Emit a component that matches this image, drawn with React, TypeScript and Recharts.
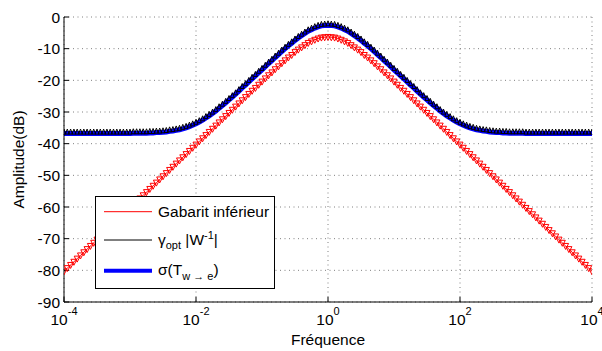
import React from 'react';
import { LineChart, Line, XAxis, YAxis, CartesianGrid, Legend } from 'recharts';

// log10 of frequency sample points
const FREQ_EXP = [
  -4.00, -3.95, -3.90, -3.85, -3.80, -3.75, -3.70, -3.65, -3.60, -3.55,
  -3.50, -3.45, -3.40, -3.35, -3.30, -3.25, -3.20, -3.15, -3.10, -3.05,
  -3.00, -2.95, -2.90, -2.85, -2.80, -2.75, -2.70, -2.65, -2.60, -2.55,
  -2.50, -2.45, -2.40, -2.35, -2.30, -2.25, -2.20, -2.15, -2.10, -2.05,
  -2.00, -1.95, -1.90, -1.85, -1.80, -1.75, -1.70, -1.65, -1.60, -1.55,
  -1.50, -1.45, -1.40, -1.35, -1.30, -1.25, -1.20, -1.15, -1.10, -1.05,
  -1.00, -0.95, -0.90, -0.85, -0.80, -0.75, -0.70, -0.65, -0.60, -0.55,
  -0.50, -0.45, -0.40, -0.35, -0.30, -0.25, -0.20, -0.15, -0.10, -0.05,
  0.00,
  0.05, 0.10, 0.15, 0.20, 0.25, 0.30, 0.35, 0.40, 0.45, 0.50,
  0.55, 0.60, 0.65, 0.70, 0.75, 0.80, 0.85, 0.90, 0.95, 1.00,
  1.05, 1.10, 1.15, 1.20, 1.25, 1.30, 1.35, 1.40, 1.45, 1.50,
  1.55, 1.60, 1.65, 1.70, 1.75, 1.80, 1.85, 1.90, 1.95, 2.00,
  2.05, 2.10, 2.15, 2.20, 2.25, 2.30, 2.35, 2.40, 2.45, 2.50,
  2.55, 2.60, 2.65, 2.70, 2.75, 2.80, 2.85, 2.90, 2.95, 3.00,
  3.05, 3.10, 3.15, 3.20, 3.25, 3.30, 3.35, 3.40, 3.45, 3.50,
  3.55, 3.60, 3.65, 3.70, 3.75, 3.80, 3.85, 3.90, 3.95, 4.00,
];

// Gabarit inférieur (dB)
const GABARIT = [
  -80.3, -79.3, -78.3, -77.3, -76.3, -75.3, -74.3, -73.3, -72.3, -71.3,
  -70.3, -69.3, -68.3, -67.3, -66.3, -65.3, -64.3, -63.3, -62.3, -61.3,
  -60.3, -59.3, -58.3, -57.3, -56.3, -55.3, -54.3, -53.3, -52.3, -51.3,
  -50.3, -49.3, -48.3, -47.3, -46.3, -45.3, -44.3, -43.3, -42.3, -41.3,
  -40.3, -39.3, -38.3, -37.3, -36.3, -35.3, -34.3, -33.3, -32.3, -31.3,
  -30.3, -29.3, -28.3, -27.3, -26.3, -25.3, -24.3, -23.3, -22.4, -21.4,
  -20.4, -19.4, -18.4, -17.5, -16.5, -15.6, -14.6, -13.7, -12.8, -12.0,
  -11.1, -10.3, -9.6, -8.9, -8.2, -7.7, -7.2, -6.8, -6.5, -6.4,
  -6.3,
  -6.4, -6.5, -6.8, -7.2, -7.7, -8.2, -8.9, -9.6, -10.3, -11.1,
  -12.0, -12.8, -13.7, -14.6, -15.6, -16.5, -17.5, -18.4, -19.4, -20.4,
  -21.4, -22.4, -23.3, -24.3, -25.3, -26.3, -27.3, -28.3, -29.3, -30.3,
  -31.3, -32.3, -33.3, -34.3, -35.3, -36.3, -37.3, -38.3, -39.3, -40.3,
  -41.3, -42.3, -43.3, -44.3, -45.3, -46.3, -47.3, -48.3, -49.3, -50.3,
  -51.3, -52.3, -53.3, -54.3, -55.3, -56.3, -57.3, -58.3, -59.3, -60.3,
  -61.3, -62.3, -63.3, -64.3, -65.3, -66.3, -67.3, -68.3, -69.3, -70.3,
  -71.3, -72.3, -73.3, -74.3, -75.3, -76.3, -77.3, -78.3, -79.3, -80.3,
];

// gamma_opt |W^-1| (dB)
const GAMMA_W = [
  -36.5, -36.5, -36.5, -36.5, -36.5, -36.5, -36.5, -36.5, -36.5, -36.5,
  -36.5, -36.5, -36.5, -36.5, -36.5, -36.5, -36.5, -36.5, -36.5, -36.5,
  -36.5, -36.4, -36.4, -36.4, -36.4, -36.4, -36.3, -36.3, -36.2, -36.2,
  -36.1, -36.0, -35.8, -35.7, -35.5, -35.3, -35.0, -34.7, -34.3, -33.9,
  -33.4, -32.9, -32.3, -31.6, -30.9, -30.2, -29.4, -28.5, -27.7, -26.8,
  -25.9, -25.0, -24.1, -23.1, -22.1, -21.2, -20.2, -19.2, -18.3, -17.3,
  -16.4, -15.4, -14.4, -13.5, -12.5, -11.6, -10.6, -9.7, -8.8, -8.0,
  -7.1, -6.3, -5.6, -4.9, -4.2, -3.7, -3.2, -2.8, -2.5, -2.4,
  -2.3,
  -2.4, -2.5, -2.8, -3.2, -3.7, -4.2, -4.9, -5.6, -6.3, -7.1,
  -8.0, -8.8, -9.7, -10.6, -11.6, -12.5, -13.5, -14.4, -15.4, -16.4,
  -17.3, -18.3, -19.2, -20.2, -21.2, -22.1, -23.1, -24.1, -25.0, -25.9,
  -26.8, -27.7, -28.5, -29.4, -30.2, -30.9, -31.6, -32.3, -32.9, -33.4,
  -33.9, -34.3, -34.7, -35.0, -35.3, -35.5, -35.7, -35.8, -36.0, -36.1,
  -36.2, -36.2, -36.3, -36.3, -36.4, -36.4, -36.4, -36.4, -36.4, -36.5,
  -36.5, -36.5, -36.5, -36.5, -36.5, -36.5, -36.5, -36.5, -36.5, -36.5,
  -36.5, -36.5, -36.5, -36.5, -36.5, -36.5, -36.5, -36.5, -36.5, -36.5,
];

// sigma(T_w->e) (dB)
const SIGMA_T = [
  -36.8, -36.8, -36.8, -36.8, -36.8, -36.8, -36.8, -36.8, -36.8, -36.8,
  -36.8, -36.8, -36.8, -36.8, -36.8, -36.8, -36.8, -36.8, -36.8, -36.8,
  -36.8, -36.7, -36.7, -36.7, -36.7, -36.7, -36.6, -36.6, -36.5, -36.5,
  -36.4, -36.3, -36.1, -36.0, -35.8, -35.6, -35.3, -35.0, -34.6, -34.2,
  -33.7, -33.2, -32.6, -31.9, -31.2, -30.5, -29.7, -28.8, -28.0, -27.1,
  -26.2, -25.3, -24.4, -23.4, -22.4, -21.5, -20.5, -19.5, -18.6, -17.6,
  -16.7, -15.7, -14.7, -13.8, -12.8, -11.9, -10.9, -10.0, -9.1, -8.3,
  -7.4, -6.6, -5.9, -5.2, -4.5, -4.0, -3.5, -3.1, -2.8, -2.7,
  -2.6,
  -2.7, -2.8, -3.1, -3.5, -4.0, -4.5, -5.2, -5.9, -6.6, -7.4,
  -8.3, -9.1, -10.0, -10.9, -11.9, -12.8, -13.8, -14.7, -15.7, -16.7,
  -17.6, -18.6, -19.5, -20.5, -21.5, -22.4, -23.4, -24.4, -25.3, -26.2,
  -27.1, -28.0, -28.8, -29.7, -30.5, -31.2, -31.9, -32.6, -33.2, -33.7,
  -34.2, -34.6, -35.0, -35.3, -35.6, -35.8, -36.0, -36.1, -36.3, -36.4,
  -36.5, -36.5, -36.6, -36.6, -36.7, -36.7, -36.7, -36.7, -36.7, -36.8,
  -36.8, -36.8, -36.8, -36.8, -36.8, -36.8, -36.8, -36.8, -36.8, -36.8,
  -36.8, -36.8, -36.8, -36.8, -36.8, -36.8, -36.8, -36.8, -36.8, -36.8,
];

const X_TICKS = [1e-4, 1e-2, 1, 1e2, 1e4];
const Y_TICKS = [-90, -80, -70, -60, -50, -40, -30, -20, -10, 0];
const X_LABEL = 'Fréquence';
const Y_LABEL = 'Amplitude(dB)';
const SERIES_NAMES = ['Gabarit inférieur', 'γopt |W-1|', 'σ(Tw→e)'];

const data = FREQ_EXP.map((e, i) => ({
  f: Math.pow(10, e),
  gabarit: GABARIT[i],
  gamma: GAMMA_W[i],
  sigma: SIGMA_T[i],
}));

const FONT = '"Liberation Sans", Arial, Helvetica, sans-serif';
const TICK_FS = 15.5;
const TEXT_FS = 15.5;
const SUB_FS = 11;

const XTick = (p: any) => {
  const v = p.payload?.value;
  const e = Math.round(Math.log10(v));
  return (
    <text x={p.x} y={324.5} textAnchor="middle" fontSize={TICK_FS} fontFamily={FONT} fill="#000">
      <tspan>10</tspan>
      <tspan dy={-9.5} fontSize={SUB_FS}>{String(e)}</tspan>
    </text>
  );
};

const YTick = (p: any) => {
  const v = p.payload?.value;
  return (
    <text x={60} y={p.y} dy={5.5} textAnchor="end" fontSize={TICK_FS} fontFamily={FONT} fill="#000">
      {String(v)}
    </text>
  );
};

const redDot = (p: any) => {
  const { cx, cy, index } = p;
  if (cx == null || cy == null) return <g key={`r${index}`} />;
  return (
    <path
      key={`r${index}`}
      d={`M${cx - 3},${cy - 2.5}L${cx + 3},${cy - 2.5}L${cx},${cy + 3.5}Z`}
      fill="none"
      stroke="#ff0000"
      strokeWidth={1}
    />
  );
};

const blackDot = (p: any) => {
  const { cx, cy, index } = p;
  if (cx == null || cy == null) return <g key={`k${index}`} />;
  return (
    <path
      key={`k${index}`}
      d={`M${cx - 2},${cy + 1.5}L${cx + 2},${cy + 1.5}L${cx},${cy - 3.5}Z`}
      fill="none"
      stroke="#000"
      strokeWidth={1}
    />
  );
};

const LegendBox = () => (
  <svg width={180} height={93} style={{ display: 'block' }} fontFamily={FONT}>
    <rect x={0.5} y={0.5} width={179} height={92} fill="#fff" stroke="#000" strokeWidth={1} />
    <line x1={9} x2={57} y1={15.7} y2={15.7} stroke="#ff0000" strokeWidth={1} />
    <text x={63} y={21} fontSize={TEXT_FS} fill="#000">{SERIES_NAMES[0]}</text>
    <line x1={9} x2={57} y1={44} y2={44} stroke="#000" strokeWidth={1} />
    <text x={63} y={49} fontSize={TEXT_FS} fill="#000">
      γ<tspan dy={4} fontSize={SUB_FS}>opt</tspan>
      <tspan dy={-4}> |W</tspan>
      <tspan dy={-6} fontSize={SUB_FS}>-1</tspan>
      <tspan dy={6}>|</tspan>
    </text>
    <line x1={9} x2={57} y1={74.7} y2={74.7} stroke="#0000ff" strokeWidth={4} />
    <text x={63} y={79} fontSize={TEXT_FS} fill="#000">
      σ(T<tspan dy={5} fontSize={SUB_FS}>w → e</tspan>
      <tspan dy={-5}>)</tspan>
    </text>
  </svg>
);

export default function App() {
  return (
    <div style={{ position: 'absolute', left: 0, top: 0, width: 602, height: 351, background: '#fff' }}>
      <LineChart width={602} height={351} data={data} margin={{ top: 17, right: 10, bottom: 0, left: 0 }}>
        <CartesianGrid xAxisId="b" yAxisId="l" stroke="#808080" strokeDasharray="1 3.5" />
        <XAxis
          xAxisId="b"
          dataKey="f"
          type="number"
          scale="log"
          domain={[1e-4, 1e4]}
          ticks={X_TICKS}
          interval={0}
          allowDataOverflow
          height={49}
          tickSize={-5}
          tickLine={{ stroke: '#000' }}
          axisLine={{ stroke: '#000' }}
          tick={XTick}
          label={{
            value: X_LABEL,
            content: () => (
              <text x={328} y={344.5} textAnchor="middle" fontSize={TEXT_FS} fontFamily={FONT} fill="#000">
                {X_LABEL}
              </text>
            ),
          }}
        />
        <XAxis
          xAxisId="t"
          orientation="top"
          dataKey="f"
          type="number"
          scale="log"
          domain={[1e-4, 1e4]}
          ticks={X_TICKS}
          interval={0}
          allowDataOverflow
          height={0}
          tickSize={-5}
          tickLine={{ stroke: '#000' }}
          axisLine={{ stroke: '#000' }}
          tick={false}
        />
        <YAxis
          yAxisId="l"
          type="number"
          domain={[-90, 0]}
          ticks={Y_TICKS}
          interval={0}
          allowDataOverflow
          width={64}
          tickSize={-5}
          tickLine={{ stroke: '#000' }}
          axisLine={{ stroke: '#000' }}
          tick={YTick}
          label={{
            value: Y_LABEL,
            content: () => (
              <text
                x={24}
                y={159.5}
                transform="rotate(-90 24 159.5)"
                textAnchor="middle"
                fontSize={TEXT_FS}
                fontFamily={FONT}
                fill="#000"
              >
                {Y_LABEL}
              </text>
            ),
          }}
        />
        <YAxis
          yAxisId="r"
          orientation="right"
          type="number"
          domain={[-90, 0]}
          ticks={Y_TICKS}
          interval={0}
          allowDataOverflow
          width={0}
          tickSize={-5}
          tickLine={{ stroke: '#000' }}
          axisLine={{ stroke: '#000' }}
          tick={false}
        />
        <Line
          xAxisId="b"
          yAxisId="l"
          dataKey="gabarit"
          name={SERIES_NAMES[0]}
          stroke="#ff0000"
          strokeWidth={1}
          dot={redDot}
          activeDot={false}
          isAnimationActive={false}
        />
        <Line
          xAxisId="b"
          yAxisId="l"
          dataKey="gamma"
          name={SERIES_NAMES[1]}
          stroke="#000"
          strokeWidth={1}
          dot={blackDot}
          activeDot={false}
          isAnimationActive={false}
        />
        <Line
          xAxisId="b"
          yAxisId="l"
          dataKey="sigma"
          name={SERIES_NAMES[2]}
          stroke="#0000ff"
          strokeWidth={5}
          dot={false}
          activeDot={false}
          isAnimationActive={false}
        />
        <Legend
          layout="vertical"
          align="center"
          verticalAlign="middle"
          content={LegendBox}
          wrapperStyle={{ left: 95, top: 196, width: 180, height: 93 }}
        />
      </LineChart>
    </div>
  );
}
